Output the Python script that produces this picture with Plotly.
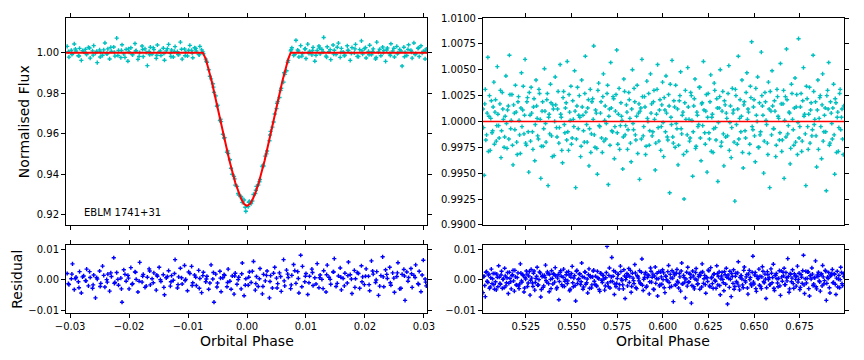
import plotly.graph_objects as go

# ---------------- data: primary eclipse (left) ----------------
phase_left = [
    -0.0305, -0.0302, -0.0298, -0.0296, -0.0293, -0.0290, -0.0286, -0.0284, -0.0281, -0.0277, -0.0274, -0.0272, -0.0269,
    -0.0266, -0.0262, -0.0260, -0.0257, -0.0254, -0.0250, -0.0248, -0.0245, -0.0241, -0.0238, -0.0236, -0.0233,
    -0.0230, -0.0226, -0.0224, -0.0221, -0.0218, -0.0214, -0.0212, -0.0209, -0.0205, -0.0202, -0.0200, -0.0197,
    -0.0194, -0.0190, -0.0188, -0.0185, -0.0182, -0.0178, -0.0176, -0.0173, -0.0169, -0.0166, -0.0164, -0.0161,
    -0.0158, -0.0154, -0.0152, -0.0149, -0.0146, -0.0142, -0.0140, -0.0137, -0.0133, -0.0130, -0.0128, -0.0125,
    -0.0122, -0.0118, -0.0116, -0.0113, -0.0110, -0.0106, -0.0104, -0.0101, -0.0097, -0.0094, -0.0092, -0.0089,
    -0.0086, -0.0082, -0.0080, -0.0077, -0.0074, -0.0070, -0.0068, -0.0065, -0.0061, -0.0058, -0.0056, -0.0053,
    -0.0050, -0.0046, -0.0044, -0.0041, -0.0038, -0.0034, -0.0032, -0.0029, -0.0025, -0.0022, -0.0020, -0.0017,
    -0.0014, -0.0010, -0.0008, -0.0005, -0.0002, 0.0002, 0.0004, 0.0007, 0.0011, 0.0014, 0.0016, 0.0019,
    0.0022, 0.0026, 0.0028, 0.0031, 0.0034, 0.0038, 0.0040, 0.0043, 0.0047, 0.0050, 0.0052, 0.0055,
    0.0058, 0.0062, 0.0064, 0.0067, 0.0070, 0.0074, 0.0076, 0.0079, 0.0083, 0.0086, 0.0088, 0.0091,
    0.0094, 0.0098, 0.0100, 0.0103, 0.0106, 0.0110, 0.0112, 0.0115, 0.0119, 0.0122, 0.0124, 0.0127,
    0.0130, 0.0134, 0.0136, 0.0139, 0.0142, 0.0146, 0.0148, 0.0151, 0.0155, 0.0158, 0.0160, 0.0163,
    0.0166, 0.0170, 0.0172, 0.0175, 0.0178, 0.0182, 0.0184, 0.0187, 0.0191, 0.0194, 0.0196, 0.0199,
    0.0202, 0.0206, 0.0208, 0.0211, 0.0214, 0.0218, 0.0220, 0.0223, 0.0227, 0.0230, 0.0232, 0.0235,
    0.0238, 0.0242, 0.0244, 0.0247, 0.0250, 0.0254, 0.0256, 0.0259, 0.0263, 0.0266, 0.0268, 0.0271,
    0.0274, 0.0278, 0.0280, 0.0283, 0.0286, 0.0290, 0.0292, 0.0295, 0.0299, 0.0302, 0.0304,
    -0.0303, -0.0297, -0.0291, -0.0285, -0.0279, -0.0273, -0.0267, -0.0261, -0.0255, -0.0249,
    -0.0243, -0.0237, -0.0231, -0.0225, -0.0219, -0.0213, -0.0207, -0.0201, -0.0195, -0.0189,
    -0.0183, -0.0177, -0.0171, -0.0165, -0.0159, -0.0153, -0.0147, -0.0141, -0.0135, -0.0129,
    -0.0123, -0.0117, -0.0111, -0.0105, -0.0099, -0.0093, -0.0087, -0.0081, -0.0075, -0.0069,
    -0.0063, -0.0057, -0.0051, -0.0045, -0.0039, -0.0033, -0.0027, -0.0021, -0.0015, -0.0009,
    -0.0003, 0.0003, 0.0009, 0.0015, 0.0021, 0.0027, 0.0033, 0.0039, 0.0045, 0.0051,
    0.0057, 0.0063, 0.0069, 0.0075, 0.0081, 0.0087, 0.0093, 0.0099, 0.0105, 0.0111,
    0.0117, 0.0123, 0.0129, 0.0135, 0.0141, 0.0147, 0.0153, 0.0159, 0.0165, 0.0171,
    0.0177, 0.0183, 0.0189, 0.0195, 0.0201, 0.0207, 0.0213, 0.0219, 0.0225, 0.0231,
    0.0237, 0.0243, 0.0249, 0.0255, 0.0261, 0.0267, 0.0273, 0.0279, 0.0285, 0.0291,
    0.0297, 0.0303,
]
flux_left = [
    1.0031, 0.9978, 1.0012, 0.9996, 1.0043, 1.0008, 0.9985, 1.0021, 0.9962, 1.0004, 1.0017, 0.9991, 1.0026,
    0.9973, 1.0009, 1.0035, 0.9998, 0.9951, 1.0014, 1.0002, 0.9987, 1.0048, 0.9995, 1.0019, 0.9969,
    1.0007, 1.0028, 0.9983, 1.0072, 1.0011, 0.9976, 1.0039, 0.9994, 1.0016, 0.9958, 1.0003, 1.0024,
    0.9989, 1.0045, 1.0010, 0.9967, 1.0001, 1.0033, 0.9981, 1.0019, 0.9936, 1.0006, 1.0027, 0.9993,
    1.0015, 0.9972, 1.0038, 1.0004, 0.9986, 1.0022, 0.9963, 1.0009, 1.0041, 0.9997, 1.0013, 0.9979,
    1.0030, 1.0005, 0.9990, 1.0052, 0.9968, 1.0018, 1.0002, 0.9984, 1.0036, 1.0011, 0.9975, 1.0024,
    1.0008, 0.9992, 1.0031, 1.0014, 0.9995, 0.9968, 0.9952, 0.9916, 0.9871, 0.9847, 0.9805, 0.9787,
    0.9741, 0.9665, 0.9660, 0.9598, 0.9581, 0.9509, 0.9503, 0.9472, 0.9401, 0.9390, 0.9347, 0.9341,
    0.9298, 0.9291, 0.9262, 0.9274, 0.9218, 0.9241, 0.9267, 0.9256, 0.9301, 0.9305, 0.9341, 0.9348,
    0.9375, 0.9439, 0.9441, 0.9490, 0.9515, 0.9566, 0.9612, 0.9633, 0.9698, 0.9724, 0.9760, 0.9779,
    0.9825, 0.9855, 0.9893, 0.9911, 0.9962, 1.0009, 1.0024, 0.9987, 1.0061, 1.0013, 0.9979, 1.0035,
    0.9996, 1.0018, 0.9971, 1.0042, 1.0007, 0.9989, 1.0026, 0.9958, 1.0011, 1.0033, 0.9994, 1.0016,
    1.0075, 0.9983, 1.0029, 1.0005, 0.9966, 1.0038, 1.0012, 0.9991, 1.0047, 0.9977, 1.0021, 1.0003,
    0.9988, 1.0034, 1.0010, 0.9962, 1.0025, 0.9999, 1.0041, 0.9982, 1.0015, 1.0058, 0.9993, 1.0020,
    0.9974, 1.0006, 1.0037, 0.9990, 1.0019, 0.9969, 1.0052, 1.0003, 0.9985, 1.0028, 1.0011, 0.9957,
    1.0023, 0.9995, 1.0044, 1.0008, 0.9979, 1.0031, 0.9999, 1.0016, 0.9934, 1.0027, 1.0002, 0.9986,
    1.0039, 1.0012, 0.9973, 1.0048, 0.9995, 1.0021, 0.9981, 1.0034, 1.0007, 0.9969, 1.0018,
    1.0005, 0.9991, 1.0018, 0.9984, 1.0010, 0.9997, 1.0023, 0.9988, 1.0007, 0.9979,
    1.0014, 0.9995, 1.0026, 1.0002, 0.9986, 1.0011, 0.9977, 1.0019, 0.9993, 1.0008,
    0.9982, 1.0016, 1.0001, 0.9990, 1.0024, 0.9987, 1.0009, 0.9996, 1.0020, 0.9981,
    1.0006, 0.9992, 1.0017, 0.9985, 1.0012, 0.9998, 1.0021, 0.9989, 1.0004, 0.9958,
    0.9884, 0.9830, 0.9736, 0.9672, 0.9579, 0.9516, 0.9430, 0.9378, 0.9306, 0.9283,
    0.9238, 0.9262, 0.9269, 0.9322, 0.9364, 0.9445, 0.9501, 0.9594, 0.9658, 0.9751,
    0.9814, 0.9901, 0.9953, 1.0015, 0.9991, 1.0008, 0.9983, 1.0020, 0.9996, 1.0011,
    0.9987, 1.0023, 1.0004, 0.9978, 1.0015, 0.9993, 1.0027, 1.0001, 0.9985, 1.0012,
    0.9996, 1.0019, 0.9981, 1.0009, 1.0025, 0.9990, 1.0006, 0.9976, 1.0017, 1.0000,
    1.0013, 0.9986, 1.0022, 0.9995, 1.0008, 0.9980, 1.0016, 1.0003, 0.9991, 1.0024,
    0.9998, 1.0010,
]
resid_left = [
    0.0021, -0.0015, 0.0004, 0.0052, -0.0031, 0.0009, -0.0006, 0.0027, -0.0042, 0.0013, -0.0002, 0.0035, -0.0019,
    0.0008, -0.0027, 0.0016, -0.0058, 0.0003, 0.0029, -0.0011, 0.0045, -0.0023, 0.0001, 0.0019, -0.0036,
    0.0011, 0.0072, -0.0008, 0.0024, -0.0017, 0.0006, -0.0072, 0.0033, -0.0004, 0.0015, -0.0029, 0.0040,
    -0.0012, 0.0026, 0.0002, -0.0039, 0.0057, -0.0007, 0.0018, -0.0024, 0.0009, 0.0036, -0.0016, 0.0004,
    0.0023, -0.0033, 0.0012, 0.0041, -0.0005, 0.0017, -0.0048, 0.0007, 0.0030, -0.0020, 0.0014, -0.0001,
    0.0066, -0.0026, 0.0010, 0.0038, -0.0013, 0.0047, 0.0002, -0.0035, 0.0021, 0.0044, -0.0009, 0.0016,
    -0.0018, 0.0031, 0.0005, -0.0041, 0.0025, -0.0006, 0.0012, -0.0030, 0.0049, 0.0003, -0.0072, 0.0019,
    -0.0010, 0.0028, -0.0038, 0.0007, 0.0015, -0.0022, 0.0035, -0.0004, 0.0013, -0.0046, 0.0022, -0.0014,
    0.0009, -0.0029, 0.0055, -0.0051, 0.0004, -0.0017, 0.0026, -0.0008, 0.0060, -0.0033, 0.0011, -0.0021,
    0.0037, -0.0045, 0.0018, -0.0003, 0.0029, -0.0058, 0.0014, -0.0026, 0.0041, 0.0006, -0.0012, 0.0023,
    -0.0037, 0.0066, -0.0019, 0.0032, 0.0008, -0.0028, 0.0015, 0.0050, -0.0011, 0.0027, -0.0042, 0.0080,
    0.0044, -0.0006, 0.0021, -0.0047, 0.0012, 0.0035, -0.0018, 0.0007, 0.0053, -0.0025, 0.0016, 0.0002,
    0.0030, -0.0039, 0.0048, 0.0009, -0.0014, 0.0026, 0.0069, -0.0021, 0.0013, 0.0039, -0.0032, 0.0005,
    0.0022, -0.0010, 0.0058, 0.0017, -0.0044, 0.0031, 0.0004, 0.0024, -0.0027, 0.0046, 0.0010, -0.0015,
    0.0036, 0.0012, -0.0035, 0.0062, 0.0019, -0.0008, 0.0027, -0.0050, 0.0014, 0.0075, -0.0022, 0.0033,
    0.0005, 0.0041, -0.0017, 0.0023, -0.0040, 0.0011, 0.0056, -0.0029, 0.0018, 0.0034, -0.0066, 0.0026,
    0.0008, 0.0037, -0.0024, 0.0015, 0.0049, -0.0012, 0.0028, -0.0038, 0.0064, 0.0003, -0.0019,
    -0.0012, 0.0019, 0.0004, -0.0025, 0.0010, -0.0003, 0.0027, -0.0016, 0.0008, -0.0021,
    0.0015, -0.0007, 0.0023, -0.0011, 0.0002, -0.0029, 0.0018, 0.0006, -0.0014, 0.0025,
    -0.0004, 0.0012, -0.0020, 0.0029, -0.0009, 0.0016, 0.0001, -0.0024, 0.0011, -0.0006,
    0.0021, -0.0015, 0.0007, -0.0002, 0.0026, -0.0018, 0.0009, -0.0027, 0.0014, 0.0003,
    -0.0010, 0.0024, -0.0023, 0.0006, 0.0017, -0.0008, -0.0030, 0.0013, 0.0001, 0.0020,
    -0.0017, 0.0009, 0.0028, -0.0012, 0.0004, -0.0021, 0.0015, -0.0005, 0.0022, -0.0026,
    0.0011, -0.0003, 0.0019, -0.0016, 0.0030, 0.0005, -0.0022, 0.0012, -0.0009, 0.0024,
    -0.0013, 0.0007, -0.0028, 0.0017, 0.0002, 0.0026, -0.0011, 0.0009, -0.0019, 0.0014,
    0.0003, -0.0024, 0.0021, -0.0006, 0.0012, -0.0015, 0.0029, 0.0000, -0.0020, 0.0010,
    0.0018, -0.0009, 0.0006, 0.0023, -0.0027, 0.0013, -0.0004, 0.0020, 0.0008, -0.0014,
    0.0016, -0.0007,
]
model_phase_left = [-0.0307, -0.0075, -0.0070, -0.0060, -0.0050, -0.0040, -0.0030, -0.0020, -0.0015, -0.0010,
                    -0.0005, 0.0, 0.0005, 0.0010, 0.0015, 0.0020, 0.0030, 0.0040, 0.0050, 0.0060, 0.0070, 0.0074, 0.0306]
model_flux_left = [1.0, 1.0, 0.997, 0.986, 0.973, 0.960, 0.947, 0.936, 0.9315, 0.928,
                   0.9254, 0.9245, 0.9254, 0.928, 0.9315, 0.936, 0.947, 0.960, 0.973, 0.986, 0.997, 1.0, 1.0]

# ---------------- data: out-of-eclipse phase range (right) ----------------
phase_right = [
    0.5015, 0.5022, 0.5028, 0.5035, 0.5042, 0.5048, 0.5055, 0.5061, 0.5068, 0.5075,
    0.5081, 0.5088, 0.5094, 0.5101, 0.5108, 0.5114, 0.5121, 0.5127, 0.5134, 0.5141,
    0.5147, 0.5154, 0.5160, 0.5167, 0.5174, 0.5180, 0.5187, 0.5193, 0.5200, 0.5207,
    0.5213, 0.5220, 0.5226, 0.5233, 0.5240, 0.5246, 0.5253, 0.5259, 0.5266, 0.5273,
    0.5279, 0.5286, 0.5292, 0.5299, 0.5306, 0.5312, 0.5319, 0.5325, 0.5332, 0.5339,
    0.5345, 0.5352, 0.5358, 0.5365, 0.5372, 0.5378, 0.5385, 0.5391, 0.5398, 0.5405,
    0.5411, 0.5418, 0.5424, 0.5431, 0.5438, 0.5444, 0.5451, 0.5457, 0.5464, 0.5471,
    0.5477, 0.5484, 0.5490, 0.5497, 0.5504, 0.5510, 0.5517, 0.5523, 0.5530, 0.5537,
    0.5543, 0.5550, 0.5556, 0.5563, 0.5570, 0.5576, 0.5583, 0.5589, 0.5596, 0.5603,
    0.5609, 0.5616, 0.5622, 0.5629, 0.5636, 0.5642, 0.5649, 0.5655, 0.5662, 0.5669,
    0.5675, 0.5682, 0.5688, 0.5695, 0.5702, 0.5708, 0.5715, 0.5721, 0.5728, 0.5735,
    0.5741, 0.5748, 0.5754, 0.5761, 0.5768, 0.5774, 0.5781, 0.5787, 0.5794, 0.5801,
    0.5807, 0.5814, 0.5820, 0.5827, 0.5834, 0.5840, 0.5847, 0.5853, 0.5860, 0.5867,
    0.5873, 0.5880, 0.5886, 0.5893, 0.5900, 0.5906, 0.5913, 0.5919, 0.5926, 0.5933,
    0.5939, 0.5946, 0.5952, 0.5959, 0.5966, 0.5972, 0.5979, 0.5985, 0.5992, 0.5999,
    0.6005, 0.6012, 0.6018, 0.6025, 0.6032, 0.6038, 0.6045, 0.6051, 0.6058, 0.6065,
    0.6071, 0.6078, 0.6084, 0.6091, 0.6098, 0.6104, 0.6111, 0.6117, 0.6124, 0.6131,
    0.6137, 0.6144, 0.6150, 0.6157, 0.6164, 0.6170, 0.6177, 0.6183, 0.6190, 0.6197,
    0.6203, 0.6210, 0.6216, 0.6223, 0.6230, 0.6236, 0.6243, 0.6249, 0.6256, 0.6263,
    0.6269, 0.6276, 0.6282, 0.6289, 0.6296, 0.6302, 0.6309, 0.6315, 0.6322, 0.6329,
    0.6335, 0.6342, 0.6348, 0.6355, 0.6362, 0.6368, 0.6375, 0.6381, 0.6388, 0.6395,
    0.6401, 0.6408, 0.6414, 0.6421, 0.6428, 0.6434, 0.6441, 0.6447, 0.6454, 0.6461,
    0.6467, 0.6474, 0.6480, 0.6487, 0.6494, 0.6500, 0.6507, 0.6513, 0.6520, 0.6527,
    0.6533, 0.6540, 0.6546, 0.6553, 0.6560, 0.6566, 0.6573, 0.6579, 0.6586, 0.6593,
    0.6599, 0.6606, 0.6612, 0.6619, 0.6626, 0.6632, 0.6639, 0.6645, 0.6652, 0.6659,
    0.6665, 0.6672, 0.6678, 0.6685, 0.6692, 0.6698, 0.6705, 0.6711, 0.6718, 0.6725,
    0.6731, 0.6738, 0.6744, 0.6751, 0.6758, 0.6764, 0.6771, 0.6777, 0.6784, 0.6791,
    0.6797, 0.6804, 0.6810, 0.6817, 0.6824, 0.6830, 0.6837, 0.6843, 0.6850, 0.6857,
    0.6863, 0.6870, 0.6876, 0.6883, 0.6890, 0.6896, 0.6903, 0.6909, 0.6916, 0.6923,
    0.6929, 0.6936, 0.6942, 0.6949, 0.6956, 0.6962, 0.6969, 0.6975, 0.6982, 0.6989,
    0.5018, 0.5025, 0.5031, 0.5038, 0.5045, 0.5051, 0.5058, 0.5065, 0.5071, 0.5078,
    0.5084, 0.5091, 0.5097, 0.5104, 0.5111, 0.5117, 0.5124, 0.5131, 0.5137, 0.5144,
    0.5150, 0.5157, 0.5163, 0.5170, 0.5177, 0.5183, 0.5190, 0.5197, 0.5203, 0.5210,
    0.5216, 0.5223, 0.5229, 0.5236, 0.5243, 0.5249, 0.5256, 0.5263, 0.5269, 0.5276,
    0.5282, 0.5289, 0.5295, 0.5302, 0.5309, 0.5315, 0.5322, 0.5329, 0.5335, 0.5342,
    0.5348, 0.5355, 0.5361, 0.5368, 0.5375, 0.5381, 0.5388, 0.5395, 0.5401, 0.5408,
    0.5414, 0.5421, 0.5427, 0.5434, 0.5441, 0.5447, 0.5454, 0.5461, 0.5467, 0.5474,
    0.5480, 0.5487, 0.5493, 0.5500, 0.5507, 0.5513, 0.5520, 0.5527, 0.5533, 0.5540,
    0.5546, 0.5553, 0.5559, 0.5566, 0.5573, 0.5579, 0.5586, 0.5593, 0.5599, 0.5606,
    0.5612, 0.5619, 0.5625, 0.5632, 0.5639, 0.5645, 0.5652, 0.5659, 0.5665, 0.5672,
    0.5678, 0.5685, 0.5691, 0.5698, 0.5705, 0.5711, 0.5718, 0.5725, 0.5731, 0.5738,
    0.5744, 0.5751, 0.5757, 0.5764, 0.5771, 0.5777, 0.5784, 0.5791, 0.5797, 0.5804,
    0.5810, 0.5817, 0.5823, 0.5830, 0.5837, 0.5843, 0.5850, 0.5857, 0.5863, 0.5870,
    0.5876, 0.5883, 0.5889, 0.5896, 0.5903, 0.5909, 0.5916, 0.5923, 0.5929, 0.5936,
    0.5942, 0.5949, 0.5955, 0.5962, 0.5969, 0.5975, 0.5982, 0.5989, 0.5995, 0.6002,
    0.6008, 0.6015, 0.6021, 0.6028, 0.6035, 0.6041, 0.6048, 0.6055, 0.6061, 0.6068,
    0.6074, 0.6081, 0.6087, 0.6094, 0.6101, 0.6107, 0.6114, 0.6121, 0.6127, 0.6134,
    0.6140, 0.6147, 0.6153, 0.6160, 0.6167, 0.6173, 0.6180, 0.6187, 0.6193, 0.6200,
    0.6206, 0.6213, 0.6219, 0.6226, 0.6233, 0.6239, 0.6246, 0.6253, 0.6259, 0.6266,
    0.6272, 0.6279, 0.6285, 0.6292, 0.6299, 0.6305, 0.6312, 0.6319, 0.6325, 0.6332,
    0.6338, 0.6345, 0.6351, 0.6358, 0.6365, 0.6371, 0.6378, 0.6385, 0.6391, 0.6398,
    0.6404, 0.6411, 0.6417, 0.6424, 0.6431, 0.6437, 0.6444, 0.6451, 0.6457, 0.6464,
    0.6470, 0.6477, 0.6483, 0.6490, 0.6497, 0.6503, 0.6510, 0.6517, 0.6523, 0.6530,
    0.6536, 0.6543, 0.6549, 0.6556, 0.6563, 0.6569, 0.6576, 0.6583, 0.6589, 0.6596,
    0.6602, 0.6609, 0.6615, 0.6622, 0.6629, 0.6635, 0.6642, 0.6649, 0.6655, 0.6662,
    0.6668, 0.6675, 0.6681, 0.6688, 0.6695, 0.6701, 0.6708, 0.6715, 0.6721, 0.6728,
    0.6734, 0.6741, 0.6747, 0.6754, 0.6761, 0.6767, 0.6774, 0.6781, 0.6787, 0.6794,
    0.6800, 0.6807, 0.6813, 0.6820, 0.6827, 0.6833, 0.6840, 0.6847, 0.6853, 0.6860,
    0.6866, 0.6873, 0.6879, 0.6886, 0.6893, 0.6899, 0.6906, 0.6913, 0.6919, 0.6926,
    0.6932, 0.6939, 0.6945, 0.6952, 0.6959, 0.6965, 0.6972, 0.6979, 0.6985, 0.6992,
]
flux_right = [
    1.0012, 0.9948, 1.0031, 0.9987, 1.0062, 1.0005, 0.9972, 1.0020, 0.9991, 1.0038,
    1.0009, 0.9981, 1.0053, 0.9996, 1.0017, 0.9965, 1.0028, 1.0002, 0.9985, 1.0044,
    0.9974, 1.0015, 1.0064, 0.9993, 1.0026, 0.9958, 1.0008, 1.0035, 0.9980, 1.0019,
    1.0001, 0.9969, 1.0047, 1.0011, 0.9988, 1.0060, 0.9977, 1.0023, 0.9951, 1.0006,
    1.0033, 0.9990, 1.0014, 0.9962, 1.0040, 1.0003, 0.9983, 1.0027, 0.9945, 1.0010,
    0.9976, 1.0051, 0.9998, 1.0021, 0.9938, 1.0007, 1.0036, 0.9986, 1.0016, 0.9967,
    1.0043, 0.9994, 1.0012, 0.9979, 1.0055, 1.0004, 0.9960, 1.0029, 0.9989, 1.0018,
    1.0058, 0.9972, 1.0009, 1.0034, 0.9984, 1.0002, 1.0049, 0.9936, 1.0015, 0.9993,
    1.0025, 0.9966, 1.0040, 1.0006, 0.9980, 1.0063, 0.9997, 1.0013, 0.9957, 1.0031,
    0.9988, 1.0022, 1.0073, 0.9975, 1.0008, 0.9949, 1.0037, 0.9995, 1.0019, 0.9970,
    1.0046, 1.0001, 0.9983, 1.0027, 0.9939, 1.0012, 1.0057, 0.9991, 1.0024, 0.9964,
    1.0010, 1.0069, 0.9978, 1.0032, 0.9996, 1.0005, 0.9954, 1.0041, 0.9987, 1.0016,
    0.9973, 1.0028, 1.0003, 0.9961, 1.0050, 0.9992, 1.0019, 0.9982, 1.0035, 1.0008,
    0.9944, 1.0013, 1.0060, 0.9986, 1.0024, 0.9968, 1.0039, 1.0000, 0.9977, 1.0046,
    1.0017, 0.9990, 1.0030, 0.9953, 1.0007, 1.0055, 0.9981, 1.0021, 0.9995, 1.0038,
    0.9966, 1.0011, 1.0044, 0.9985, 1.0026, 0.9931, 1.0004, 1.0059, 0.9979, 1.0014,
    1.0035, 0.9993, 0.9958, 1.0020, 1.0048, 0.9988, 1.0009, 0.9925, 1.0030, 0.9971,
    1.0052, 1.0002, 0.9984, 1.0025, 0.9947, 1.0015, 1.0041, 0.9976, 1.0006, 0.9997,
    1.0033, 0.9962, 1.0018, 1.0058, 0.9989, 1.0010, 0.9951, 1.0027, 0.9983, 1.0045,
    1.0004, 0.9970, 1.0037, 0.9994, 1.0022, 0.9942, 1.0013, 1.0050, 0.9980, 1.0029,
    0.9957, 1.0016, 1.0008, 0.9986, 1.0054, 0.9999, 0.9965, 1.0032, 1.0011, 0.9923,
    1.0025, 0.9978, 1.0063, 1.0003, 0.9990, 1.0040, 0.9955, 1.0019, 0.9984, 1.0047,
    1.0012, 0.9969, 1.0034, 1.0077, 0.9992, 1.0021, 0.9961, 1.0006, 1.0043, 0.9975,
    0.9987, 1.0067, 1.0015, 0.9950, 1.0028, 1.0001, 0.9979, 1.0038, 0.9936, 1.0010,
    1.0049, 0.9993, 1.0020, 0.9966, 1.0031, 1.0005, 0.9982, 1.0056, 0.9971, 1.0017,
    0.9945, 1.0024, 1.0070, 0.9988, 1.0009, 0.9959, 1.0036, 1.0002, 0.9977, 1.0042,
    1.0014, 0.9968, 1.0080, 0.9995, 1.0027, 0.9981, 1.0052, 1.0007, 0.9938, 1.0022,
    0.9973, 1.0033, 1.0011, 0.9986, 1.0064, 0.9997, 1.0019, 0.9956, 1.0040, 1.0003,
    1.0025, 0.9964, 1.0046, 0.9990, 1.0013, 0.9933, 1.0030, 1.0057, 0.9979, 1.0008,
    0.9983, 1.0036, 0.9949, 1.0018, 1.0004, 0.9971, 1.0027, 0.9992, 1.0012, 0.9968,
    0.9994, 1.0017, 0.9982, 1.0008, 0.9971, 1.0025, 1.0003, 0.9989, 1.0014, 0.9978,
    1.0021, 0.9996, 1.0007, 0.9984, 1.0030, 0.9991, 1.0012, 0.9975, 1.0005, 0.9998,
    1.0011, 0.9983, 1.0026, 1.0001, 0.9977, 1.0016, 0.9992, 1.0009, 0.9968, 1.0024,
    0.9987, 1.0013, 0.9995, 1.0034, 1.0006, 0.9979, 1.0019, 0.9990, 1.0028, 0.9981,
    1.0008, 0.9973, 1.0022, 0.9997, 1.0015, 0.9986, 1.0031, 1.0002, 0.9976, 1.0019,
    0.9993, 1.0010, 0.9980, 1.0027, 1.0004, 0.9988, 1.0018, 0.9966, 1.0012, 1.0000,
    1.0016, 0.9985, 1.0029, 0.9994, 1.0007, 0.9972, 1.0023, 0.9997, 1.0013, 0.9982,
    0.9990, 1.0026, 1.0001, 0.9978, 1.0020, 0.9995, 1.0010, 0.9983, 1.0033, 1.0006,
    1.0004, 0.9976, 1.0014, 0.9991, 1.0027, 1.0009, 0.9980, 1.0021, 0.9993, 0.9970,
    1.0019, 1.0002, 0.9987, 1.0011, 0.9974, 1.0030, 0.9996, 1.0008, 0.9984, 1.0024,
    0.9981, 1.0015, 0.9998, 1.0035, 1.0005, 0.9977, 1.0013, 0.9990, 1.0022, 0.9995,
    1.0026, 0.9989, 1.0007, 0.9973, 1.0018, 1.0001, 0.9985, 1.0029, 0.9996, 1.0009,
    0.9992, 1.0021, 0.9979, 1.0012, 0.9998, 1.0032, 0.9987, 1.0005, 0.9969, 1.0017,
    1.0010, 0.9983, 1.0024, 0.9995, 1.0014, 0.9976, 1.0003, 1.0027, 0.9991, 1.0008,
    0.9986, 1.0019, 1.0002, 0.9979, 1.0031, 0.9994, 1.0011, 0.9972, 1.0016, 0.9999,
    1.0023, 0.9990, 1.0008, 0.9982, 1.0015, 1.0036, 0.9997, 0.9985, 1.0020, 0.9975,
    0.9998, 1.0012, 0.9977, 1.0025, 0.9993, 1.0006, 0.9968, 1.0018, 1.0002, 0.9987,
    1.0014, 0.9981, 1.0028, 1.0001, 0.9990, 1.0022, 0.9974, 1.0009, 0.9995, 1.0033,
    0.9984, 1.0017, 0.9996, 1.0011, 0.9978, 1.0026, 1.0004, 0.9989, 1.0019, 0.9971,
    1.0007, 0.9993, 1.0030, 0.9982, 1.0013, 0.9999, 1.0024, 0.9976, 1.0010, 0.9988,
    1.0020, 0.9985, 1.0003, 1.0027, 0.9972, 1.0015, 0.9994, 1.0008, 0.9980, 1.0031,
    0.9997, 1.0012, 0.9983, 1.0021, 1.0005, 0.9970, 1.0016, 0.9991, 1.0028, 1.0002,
    1.0009, 0.9978, 1.0023, 0.9995, 1.0014, 0.9986, 1.0032, 1.0000, 0.9975, 1.0018,
    0.9990, 1.0025, 1.0006, 0.9981, 1.0019, 0.9997, 0.9968, 1.0012, 1.0029, 0.9987,
    1.0015, 0.9993, 1.0010, 0.9977, 1.0024, 1.0003, 0.9989, 1.0017, 0.9982, 1.0030,
    1.0001, 0.9985, 1.0021, 0.9996, 1.0008, 0.9974, 1.0027, 0.9992, 1.0013, 0.9980,
    1.0026, 0.9999, 0.9984, 1.0014, 0.9971, 1.0020, 1.0005, 0.9988, 1.0034, 0.9995,
    1.0007, 0.9979, 1.0018, 0.9992, 1.0029, 1.0002, 0.9986, 1.0011, 0.9973, 1.0023,
    0.9995, 1.0016, 0.9981, 1.0006, 0.9990, 1.0025, 1.0012, 0.9977, 1.0019, 0.9998,
    1.0013, 0.9987, 1.0022, 0.9970, 1.0009, 0.9994, 1.0031, 1.0004, 0.9983, 1.0015,
]
resid_right = [
    -0.0041, 0.0012, -0.0054, 0.0027, -0.0008, 0.0019, -0.0023, 0.0035, 0.0004, -0.0015,
    0.0021, -0.0032, 0.0009, 0.0046, -0.0011, 0.0016, -0.0027, 0.0003, 0.0038, -0.0019,
    0.0007, -0.0044, 0.0025, -0.0006, 0.0014, 0.0031, -0.0036, 0.0010, -0.0017, 0.0023,
    -0.0028, 0.0052, -0.0003, 0.0017, -0.0039, 0.0008, 0.0029, -0.0021, 0.0013, -0.0049,
    0.0034, -0.0010, 0.0022, -0.0033, 0.0005, 0.0041, -0.0016, 0.0026, -0.0055, 0.0011,
    -0.0024, 0.0015, 0.0048, -0.0007, 0.0020, -0.0038, 0.0002, 0.0030, -0.0013, 0.0018,
    0.0040, -0.0029, 0.0006, -0.0064, 0.0024, 0.0012, -0.0020, 0.0035, -0.0004, 0.0017,
    -0.0012, 0.0027, -0.0035, 0.0009, 0.0044, -0.0022, 0.0014, -0.0068, 0.0031, 0.0001,
    0.0019, -0.0015, 0.0055, -0.0030, 0.0008, 0.0025, -0.0009, -0.0042, 0.0036, 0.0013,
    -0.0026, 0.0010, 0.0032, -0.0014, -0.0018, 0.0028, 0.0004, -0.0037, 0.0021, -0.0008,
    0.0015, -0.0033, 0.0007, 0.0109, -0.0021, 0.0039, -0.0005, 0.0073, 0.0012, -0.0047,
    0.0026, -0.0011, 0.0018, -0.0029, 0.0045, 0.0003, -0.0016, 0.0033, -0.0060, 0.0009,
    -0.0019, 0.0037, 0.0011, -0.0040, 0.0022, -0.0002, 0.0050, -0.0025, 0.0014, 0.0006,
    0.0030, -0.0013, 0.0068, -0.0034, 0.0008, 0.0024, -0.0020, 0.0016, -0.0045, 0.0039,
    -0.0007, 0.0019, -0.0031, 0.0042, 0.0004, -0.0052, 0.0027, -0.0015, 0.0010, 0.0033,
    0.0023, -0.0041, 0.0012, -0.0003, 0.0047, -0.0024, 0.0006, 0.0030, -0.0070, 0.0016,
    -0.0017, 0.0034, -0.0009, 0.0021, -0.0036, 0.0055, -0.0012, 0.0008, -0.0058, 0.0025,
    0.0041, -0.0006, 0.0018, -0.0075, 0.0029, -0.0022, 0.0003, 0.0037, -0.0014, 0.0011,
    -0.0030, 0.0024, 0.0052, -0.0011, 0.0015, -0.0043, 0.0007, 0.0032, -0.0019, 0.0040,
    0.0009, -0.0027, 0.0020, -0.0004, 0.0046, -0.0016, 0.0026, -0.0048, 0.0013, 0.0002,
    -0.0035, 0.0017, 0.0038, -0.0078, 0.0005, 0.0028, -0.0054, 0.0011, 0.0033, -0.0021,
    0.0022, -0.0010, 0.0059, -0.0032, 0.0014, 0.0003, -0.0025, 0.0042, -0.0007, 0.0018,
    -0.0046, 0.0031, 0.0008, -0.0019, 0.0077, -0.0013, 0.0024, -0.0037, 0.0006, 0.0035,
    0.0012, -0.0028, 0.0043, -0.0005, 0.0019, -0.0060, 0.0027, 0.0001, -0.0016, 0.0036,
    -0.0009, 0.0051, -0.0034, 0.0015, 0.0004, -0.0022, 0.0030, -0.0050, 0.0010, 0.0025,
    0.0038, -0.0015, 0.0007, 0.0069, -0.0040, 0.0021, -0.0006, 0.0033, -0.0027, 0.0013,
    -0.0020, 0.0045, 0.0002, -0.0031, 0.0017, -0.0011, 0.0080, -0.0044, 0.0028, 0.0005,
    0.0026, -0.0052, 0.0014, 0.0039, -0.0018, 0.0008, 0.0062, -0.0029, 0.0011, -0.0003,
    -0.0036, 0.0020, 0.0047, -0.0013, 0.0031, -0.0066, 0.0009, 0.0024, -0.0042, 0.0016,
    0.0034, -0.0008, 0.0018, -0.0047, 0.0028, 0.0003, -0.0025, 0.0041, -0.0012, 0.0021,
    0.0011, -0.0018, 0.0025, -0.0004, 0.0016, -0.0027, 0.0007, -0.0012, 0.0021, -0.0030,
    -0.0006, 0.0019, -0.0022, 0.0009, -0.0014, 0.0028, 0.0002, -0.0025, 0.0013, -0.0009,
    0.0024, -0.0011, 0.0005, -0.0029, 0.0017, -0.0003, 0.0031, -0.0016, 0.0008, -0.0020,
    -0.0013, 0.0022, -0.0007, 0.0014, -0.0026, 0.0003, 0.0019, -0.0010, 0.0027, -0.0001,
    0.0006, -0.0021, 0.0029, -0.0008, 0.0012, -0.0017, 0.0001, 0.0023, -0.0031, 0.0015,
    -0.0019, 0.0008, -0.0002, 0.0026, -0.0012, 0.0018, -0.0028, 0.0005, 0.0020, -0.0007,
    0.0013, -0.0024, 0.0017, -0.0005, 0.0030, -0.0015, 0.0009, -0.0021, 0.0002, 0.0025,
    -0.0003, 0.0016, -0.0030, 0.0021, -0.0009, 0.0006, -0.0018, 0.0028, -0.0011, 0.0004,
    0.0020, -0.0006, 0.0011, -0.0023, 0.0026, -0.0014, 0.0003, 0.0017, -0.0027, 0.0009,
    -0.0016, 0.0029, -0.0004, 0.0012, -0.0020, 0.0007, -0.0031, 0.0022, -0.0001, 0.0014,
    0.0003, -0.0019, 0.0024, -0.0010, 0.0015, -0.0026, 0.0010, -0.0005, 0.0030, -0.0013,
    -0.0022, 0.0005, 0.0018, -0.0015, 0.0027, -0.0002, -0.0029, 0.0013, 0.0001, 0.0021,
    0.0016, -0.0008, 0.0031, -0.0021, 0.0006, -0.0012, 0.0023, -0.0028, 0.0011, -0.0003,
    -0.0010, 0.0025, -0.0017, 0.0002, 0.0019, -0.0024, 0.0008, 0.0014, -0.0006, 0.0028,
    0.0009, -0.0030, 0.0013, -0.0011, 0.0022, 0.0004, -0.0019, 0.0026, -0.0014, 0.0001,
    -0.0025, 0.0012, 0.0001, 0.0027, -0.0008, 0.0018, -0.0021, 0.0006, 0.0023, -0.0016,
    0.0022, -0.0004, -0.0026, 0.0010, 0.0029, -0.0013, 0.0015, -0.0007, 0.0003, -0.0020,
    -0.0008, 0.0021, 0.0007, -0.0018, 0.0013, -0.0029, 0.0024, 0.0000, -0.0012, 0.0017,
    0.0014, -0.0023, 0.0026, 0.0004, -0.0015, 0.0009, -0.0005, 0.0030, -0.0022, 0.0006,
    -0.0012, 0.0018, -0.0001, -0.0027, 0.0020, 0.0011, -0.0018, 0.0003, 0.0025, -0.0009,
    0.0027, -0.0014, 0.0009, 0.0016, -0.0024, 0.0002, 0.0021, -0.0011, -0.0030, 0.0012,
    -0.0005, 0.0023, -0.0020, 0.0008, 0.0014, -0.0016, 0.0031, -0.0002, 0.0010, -0.0026,
    0.0019, 0.0001, -0.0013, 0.0025, -0.0007, 0.0016, -0.0028, 0.0012, 0.0004, -0.0017,
    -0.0021, 0.0010, 0.0028, -0.0009, 0.0003, -0.0025, 0.0017, 0.0007, -0.0014, 0.0022,
    0.0008, -0.0027, 0.0015, 0.0021, -0.0010, 0.0005, -0.0019, 0.0029, -0.0004, 0.0013,
    -0.0015, 0.0024, -0.0003, 0.0011, -0.0029, 0.0018, 0.0006, -0.0012, 0.0020, 0.0002,
    0.0012, -0.0007, 0.0022, -0.0024, 0.0009, 0.0030, -0.0016, 0.0004, -0.0010, 0.0026,
    -0.0028, 0.0014, 0.0003, 0.0019, -0.0013, 0.0007, -0.0022, 0.0016, 0.0025, -0.0006,
    0.0017, -0.0019, 0.0010, -0.0002, 0.0028, -0.0011, 0.0005, -0.0025, 0.0013, 0.0021,
    -0.0009, 0.0020, -0.0014, 0.0006, -0.0023, 0.0015, 0.0001, 0.0024, -0.0018, 0.0011,
]
model_phase_right = [0.5015, 0.6993]
model_flux_right = [1.0, 1.0]

# tick labels
ticks_left_x = [-0.03, -0.02, -0.01, 0.0, 0.01, 0.02, 0.03]
ticks_left_x_text = ["\u22120.03", "\u22120.02", "\u22120.01", "0.00", "0.01", "0.02", "0.03"]
ticks_left_y = [0.92, 0.94, 0.96, 0.98, 1.00]
ticks_right_x = [0.525, 0.550, 0.575, 0.600, 0.625, 0.650, 0.675]
ticks_right_y = [0.9900, 0.9925, 0.9950, 0.9975, 1.0000, 1.0025, 1.0050, 1.0075, 1.0100]
ticks_resid = [-0.01, 0.0, 0.01]
ticks_resid_text = ["\u22120.01", "0.00", "0.01"]

CYAN = "#00BFBF"
BLUE = "#0000FF"
RED = "#FF0000"
FONT = "DejaVu Sans"

fig = go.Figure()

pt = dict(symbol="cross", size=3.5, line=dict(width=0))

fig.add_trace(go.Scatter(x=phase_left, y=flux_left, mode="markers",
                         marker=dict(color=CYAN, **pt), xaxis="x", yaxis="y"))
fig.add_trace(go.Scatter(x=model_phase_left, y=model_flux_left, mode="lines",
                         line=dict(color=RED, width=2), xaxis="x", yaxis="y"))
fig.add_trace(go.Scatter(x=phase_right, y=flux_right, mode="markers",
                         marker=dict(color=CYAN, **pt), xaxis="x2", yaxis="y2"))
fig.add_trace(go.Scatter(x=model_phase_right, y=model_flux_right, mode="lines",
                         line=dict(color=RED, width=1.5), xaxis="x2", yaxis="y2"))
fig.add_trace(go.Scatter(x=phase_left, y=resid_left, mode="markers",
                         marker=dict(color=BLUE, **pt), xaxis="x3", yaxis="y3"))
fig.add_trace(go.Scatter(x=phase_right, y=resid_right, mode="markers",
                         marker=dict(color=BLUE, **pt), xaxis="x4", yaxis="y4"))

ax = dict(showline=True, linecolor="black", linewidth=1, mirror="ticks",
          ticks="outside", ticklen=4, tickwidth=1, tickcolor="black",
          showgrid=False, zeroline=False,
          tickfont=dict(family=FONT, size=10, color="black"))

top_dom = [0.2987, 1.0]
bot_dom = [0.0, 0.2292]
left_dom = [0.0, 0.4646]
right_dom = [0.5359, 1.0]

fig.update_layout(
    width=864, height=360, autosize=False,
    margin=dict(l=66, r=13, t=15, b=47),
    paper_bgcolor="white", plot_bgcolor="white",
    showlegend=False,
    font=dict(family=FONT, color="black"),
    xaxis=dict(ax, domain=left_dom, anchor="y", range=[-0.0307, 0.0306],
               tickvals=ticks_left_x, showticklabels=False),
    yaxis=dict(ax, domain=top_dom, anchor="x", range=[0.9151, 1.0171],
               tickvals=ticks_left_y, tickformat=".2f"),
    xaxis2=dict(ax, domain=right_dom, anchor="y2", range=[0.5015, 0.6993],
                tickvals=ticks_right_x, showticklabels=False),
    yaxis2=dict(ax, domain=top_dom, anchor="x2", range=[0.99, 1.01],
                tickvals=ticks_right_y, tickformat=".4f"),
    xaxis3=dict(ax, domain=left_dom, anchor="y3", range=[-0.0307, 0.0306],
                tickvals=ticks_left_x, ticktext=ticks_left_x_text),
    yaxis3=dict(ax, domain=bot_dom, anchor="x3", range=[-0.0107, 0.0112],
                tickvals=ticks_resid, ticktext=ticks_resid_text),
    xaxis4=dict(ax, domain=right_dom, anchor="y4", range=[0.5015, 0.6993],
                tickvals=ticks_right_x, tickformat=".3f"),
    yaxis4=dict(ax, domain=bot_dom, anchor="x4", range=[-0.0107, 0.0112],
                tickvals=ticks_resid, ticktext=ticks_resid_text),
)

title_font = dict(family=FONT, size=14, color="black")
fig.add_annotation(text="Normalised Flux", xref="paper", yref="paper", x=-0.0545, y=0.649,
                   textangle=-90, showarrow=False, font=title_font, xanchor="center", yanchor="middle")
fig.add_annotation(text="Residual", xref="paper", yref="paper", x=-0.0624, y=0.114,
                   textangle=-90, showarrow=False, font=title_font, xanchor="center", yanchor="middle")
fig.add_annotation(text="Orbital Phase", xref="paper", yref="paper", x=0.2323, y=-0.094,
                   showarrow=False, font=title_font, xanchor="center", yanchor="middle")
fig.add_annotation(text="Orbital Phase", xref="paper", yref="paper", x=0.7677, y=-0.094,
                   showarrow=False, font=title_font, xanchor="center", yanchor="middle")
fig.add_annotation(text="EBLM 1741+31", xref="x domain", yref="y domain", x=0.044, y=0.062,
                   showarrow=False, font=dict(family=FONT, size=10, color="black"),
                   xanchor="left", yanchor="middle")

fig.write_html("out.html", config={"displayModeBar": False},
               post_script="document.body.style.margin='0';")
